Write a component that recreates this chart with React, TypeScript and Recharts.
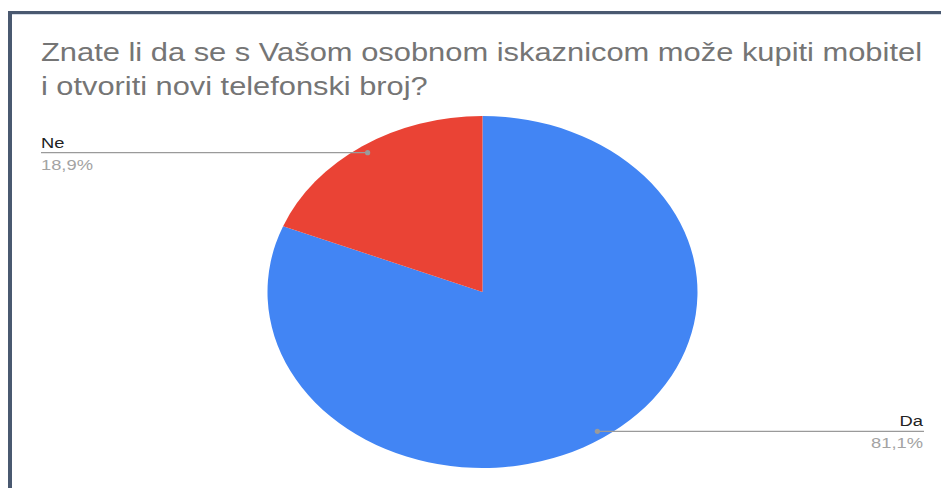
import React from 'react';
import { PieChart, Pie, Cell } from 'recharts';

const categories = ['Da', 'Ne'];
const values = [81.1, 18.9];
const colors = ['#4285f4', '#ea4335'];
const titleLines = [
  'Znate li da se s Vašom osobnom iskaznicom može kupiti mobitel',
  'i otvoriti novi telefonski broj?',
];

const data = categories.map((name, i) => ({ name, value: values[i] }));

const W = 941;
const H = 488;
const S = 215 / 176; // horizontal stretch of the reference
const IW = W / S;
const FONT = '"Liberation Sans", Arial, sans-serif';

const renderLabel = (props: any) => {
  const { cx, cy, midAngle, outerRadius, name, percent } = props;
  const RAD = Math.PI / 180;
  const k = 0.955;
  const px = cx + outerRadius * k * Math.cos(-midAngle * RAD);
  const py = cy + outerRadius * k * Math.sin(-midAngle * RAD);
  const left = px < cx;
  const endX = left ? 41 / S : 924 / S;
  const textX = left ? 41 / S : 923 / S;
  const anchor = left ? 'start' : 'end';
  const pct = (percent * 100).toFixed(1).replace('.', ',') + '%';
  return (
    <g>
      <line x1={px} y1={py} x2={endX} y2={py} stroke="#9a9a9a" strokeWidth={1.2} />
      <ellipse cx={px} cy={py} rx={2.6 / S} ry={2.6} fill="#9a9a9a" />
      <text x={textX} y={py - 5} textAnchor={anchor} fontFamily={FONT} fontSize={15} fill="#222222">
        {name}
      </text>
      <text x={textX} y={py + 17} textAnchor={anchor} fontFamily={FONT} fontSize={15} fill="#a3a3a3">
        {pct}
      </text>
    </g>
  );
};

export default function App() {
  return (
    <div style={{ position: 'absolute', left: 0, top: 0, width: W, height: H, background: '#ffffff', overflow: 'hidden' }}>
      <div
        style={{
          position: 'absolute',
          left: 8,
          top: 11,
          width: W - 8,
          height: H - 11,
          borderTop: '3px solid #4a5970',
          borderLeft: '4px solid #4a5970',
          boxSizing: 'border-box',
        }}
      />
      <div style={{ position: 'absolute', left: 12, top: 14, width: W - 12, height: 1, background: '#d5dce6' }} />
      <div
        style={{
          position: 'absolute',
          left: 0,
          top: 0,
          width: IW,
          height: H,
          transform: `scaleX(${S})`,
          transformOrigin: '0 0',
        }}
      >
        <svg width={IW} height={110} style={{ position: 'absolute', left: 0, top: 0 }}>
          <text x={41 / S} y={61} fontFamily={FONT} fontSize={25.2} fill="#757575" textLength={881 / S} lengthAdjust="spacingAndGlyphs">
            {titleLines[0]}
          </text>
          <text x={41 / S} y={95} fontFamily={FONT} fontSize={25.2} fill="#757575">
            {titleLines[1]}
          </text>
        </svg>
        <div style={{ position: 'absolute', left: 0, top: 0 }}>
          <PieChart width={IW} height={H} margin={{ top: 0, right: 0, bottom: 0, left: 0 }}>
            <Pie
              data={data}
              dataKey="value"
              nameKey="name"
              cx={482.5 / S}
              cy={292}
              outerRadius={176}
              startAngle={90}
              endAngle={-270}
              stroke="none"
              label={renderLabel}
              labelLine={false}
              isAnimationActive={false}
            >
              {data.map((d, i) => (
                <Cell key={d.name} fill={colors[i]} />
              ))}
            </Pie>
          </PieChart>
        </div>
      </div>
    </div>
  );
}
